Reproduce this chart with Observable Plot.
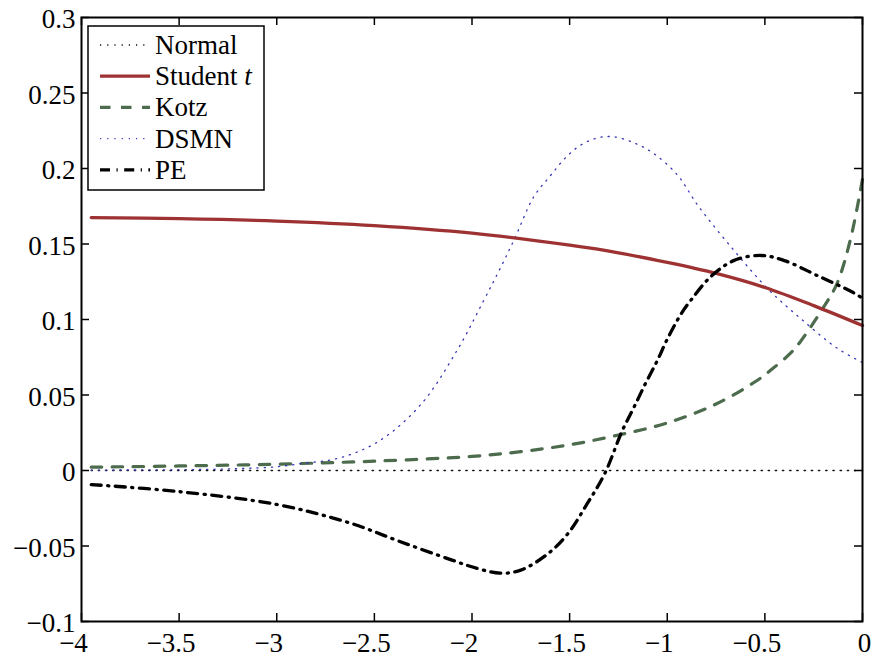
<!DOCTYPE html>
<html>
<head>
<meta charset="utf-8">
<script src="https://cdn.jsdelivr.net/npm/d3@7"></script>
<script src="https://cdn.jsdelivr.net/npm/@observablehq/plot@0.6"></script>
<style>
  body { margin: 0; background: #fff; }
  #chart { width: 873px; height: 660px; }
</style>
</head>
<body>
<div id="chart"></div>
<script>
// Density differences on the left tail, one curve per distribution.
const normalX = [-3.95, -2, 0];
const normalY = [0, 0, 0];

const studentX = [-3.95, -3.5, -3.0, -2.5, -2.0, -1.5, -1.25, -1.0, -0.75, -0.5, -0.25, 0];
const studentY = [0.1675, 0.1668, 0.1652, 0.1622, 0.1572, 0.1492, 0.1442, 0.1378, 0.1305, 0.1212, 0.1092, 0.0960];

const kotzX = [-3.95, -3.5, -3.0, -2.5, -2.0, -1.75, -1.5, -1.25, -1.0, -0.75, -0.54, -0.46, -0.37, -0.32, -0.2, -0.13, -0.06, 0];
const kotzY = [0.0022, 0.0030, 0.0042, 0.0062, 0.0093, 0.0125, 0.0170, 0.0235, 0.0315, 0.0440, 0.0596, 0.0675, 0.0775, 0.0850, 0.1080, 0.1240, 0.1540, 0.1930];

const dsmnX = [-3.95, -3.5, -3.2, -3.0, -2.88, -2.67, -2.47, -2.26, -2.07, -1.94, -1.855, -1.78, -1.685, -1.6, -1.51, -1.43, -1.35, -1.275, -1.17, -1.07, -0.95, -0.84, -0.66, -0.49, -0.32, -0.13, 0];
const dsmnY = [0.0003, 0.0005, 0.0012, 0.0025, 0.0045, 0.0086, 0.0200, 0.0440, 0.0810, 0.1126, 0.1340, 0.1540, 0.1810, 0.1950, 0.2086, 0.2165, 0.2205, 0.2210, 0.2170, 0.2100, 0.1960, 0.1750, 0.1460, 0.1210, 0.1010, 0.0810, 0.0715];

const peX = [-3.95, -3.5, -3.0, -2.62, -2.37, -2.11, -1.97, -1.855, -1.75, -1.61, -1.51, -1.41, -1.32, -1.23, -1.17, -1.11, -1.05, -1.0, -0.93, -0.88, -0.78, -0.66, -0.52, -0.40, -0.23, -0.05, 0];
const peY = [-0.0093, -0.0140, -0.0225, -0.0350, -0.0470, -0.0590, -0.0650, -0.0680, -0.0660, -0.0550, -0.0420, -0.0220, -0.0020, 0.0265, 0.0420, 0.0580, 0.0730, 0.0870, 0.1035, 0.1126, 0.1280, 0.1390, 0.1424, 0.1390, 0.1290, 0.1180, 0.1140];

const seriesNames = ["Normal", "Student t", "Kotz", "DSMN", "PE"];

const xTicks = [-4, -3.5, -3, -2.5, -2, -1.5, -1, -0.5, 0];
const xTickLabels = ["\u22124", "\u22123.5", "\u22123", "\u22122.5", "\u22122", "\u22121.5", "\u22121", "\u22120.5", "0"];
const yTicks = [-0.1, -0.05, 0, 0.05, 0.1, 0.15, 0.2, 0.25, 0.3];
const yTickLabels = ["\u22120.1", "\u22120.05", "0", "0.05", "0.1", "0.15", "0.2", "0.25", "0.3"];

// Layout
const W = 873, H = 660;
const margin = {left: 81, right: 11, top: 17, bottom: 39};
const innerW = W - margin.left - margin.right;
const innerH = H - margin.top - margin.bottom;
const tickLen = 8;
const serif = '"Liberation Serif", "Times New Roman", Times, serif';
const tickFont = 27;

const rows = (xs, ys) => xs.map((x, i) => ({x, y: ys[i]}));

const styles = {
  "Normal":    {stroke: "#111", strokeWidth: 1.6, strokeDasharray: "1.2,6"},
  "Student t": {stroke: "#9e3232", strokeWidth: 3.3},
  "Kotz":      {stroke: "#4d6b4d", strokeWidth: 3.2, strokeDasharray: "10.5,10.5"},
  "DSMN":      {stroke: "#3434b4", strokeWidth: 1.3, strokeDasharray: "1.2,6"},
  "PE":        {stroke: "#000", strokeWidth: 3.3, strokeDasharray: "10,6.5,1.2,6.5"}
};

const seriesData = {
  "Normal": rows(normalX, normalY),
  "Student t": rows(studentX, studentY),
  "Kotz": rows(kotzX, kotzY),
  "DSMN": rows(dsmnX, dsmnY),
  "PE": rows(peX, peY)
};

const labelOf = (ticks, labels) => d => labels[ticks.indexOf(d)];
const tickStyle = {stroke: "#000", strokeWidth: 1.5};

const svg = Plot.plot({
  width: W,
  height: H,
  marginLeft: margin.left,
  marginRight: margin.right,
  marginTop: margin.top,
  marginBottom: margin.bottom,
  x: {domain: [-4, 0], label: null},
  y: {domain: [-0.1, 0.3], label: null},
  style: {fontFamily: serif, fontSize: tickFont + "px", color: "#000", background: "#fff", overflow: "visible"},
  marks: [
    ...["Normal", "Kotz", "DSMN", "Student t", "PE"].map(name =>
      Plot.line(seriesData[name], {x: "x", y: "y", curve: "catmull-rom", ...styles[name]})
    ),
    // inward ticks on all four sides
    Plot.tickY(yTicks, {y: d => d, insetRight: innerW - tickLen, ...tickStyle}),
    Plot.tickY(yTicks, {y: d => d, insetLeft: innerW - tickLen, ...tickStyle}),
    Plot.tickX(xTicks, {x: d => d, insetTop: innerH - tickLen, ...tickStyle}),
    Plot.tickX(xTicks, {x: d => d, insetBottom: innerH - tickLen, ...tickStyle}),
    Plot.frame({stroke: "#000", strokeWidth: 2}),
    Plot.axisY(yTicks, {tickSize: 0, tickPadding: 6, dy: 2, label: null, tickFormat: labelOf(yTicks, yTickLabels), fontSize: tickFont}),
    Plot.axisX(xTicks.filter(d => d < 0), {tickSize: 0, tickPadding: 11, dx: -8, label: null, tickFormat: labelOf(xTicks, xTickLabels), fontSize: tickFont}),
    Plot.axisX(xTicks.filter(d => d >= 0), {tickSize: 0, tickPadding: 11, dx: 2, label: null, tickFormat: labelOf(xTicks, xTickLabels), fontSize: tickFont})
  ]
});

document.getElementById("chart").appendChild(svg);

// Legend box in the upper-left corner of the axes
const lg = {x: margin.left + 7, y: margin.top + 9, w: 176, h: 164, row: 31.2, first: 19, lineX0: 12, lineX1: 62, textX: 67};
const g = d3.select(svg).append("g").attr("class", "legend").attr("text-anchor", "start");
g.append("rect")
  .attr("x", lg.x).attr("y", lg.y).attr("width", lg.w).attr("height", lg.h)
  .attr("fill", "#fff").attr("stroke", "#000").attr("stroke-width", 1.5);
seriesNames.forEach((name, i) => {
  const cy = lg.y + lg.first + i * lg.row;
  const s = styles[name];
  g.append("line")
    .attr("x1", lg.x + lg.lineX0).attr("x2", lg.x + lg.lineX1)
    .attr("y1", cy).attr("y2", cy)
    .attr("stroke", s.stroke).attr("stroke-width", s.strokeWidth)
    .attr("stroke-dasharray", s.strokeDasharray || null);
  const t = g.append("text")
    .attr("x", lg.x + lg.textX).attr("y", cy + 9)
    .attr("text-anchor", "start")
    .attr("font-family", serif).attr("font-size", 27).attr("fill", "#000");
  if (name === "Student t") {
    t.append("tspan").text("Student ");
    t.append("tspan").attr("font-style", "italic").text("t");
  } else {
    t.text(name);
  }
});
</script>
</body>
</html>
